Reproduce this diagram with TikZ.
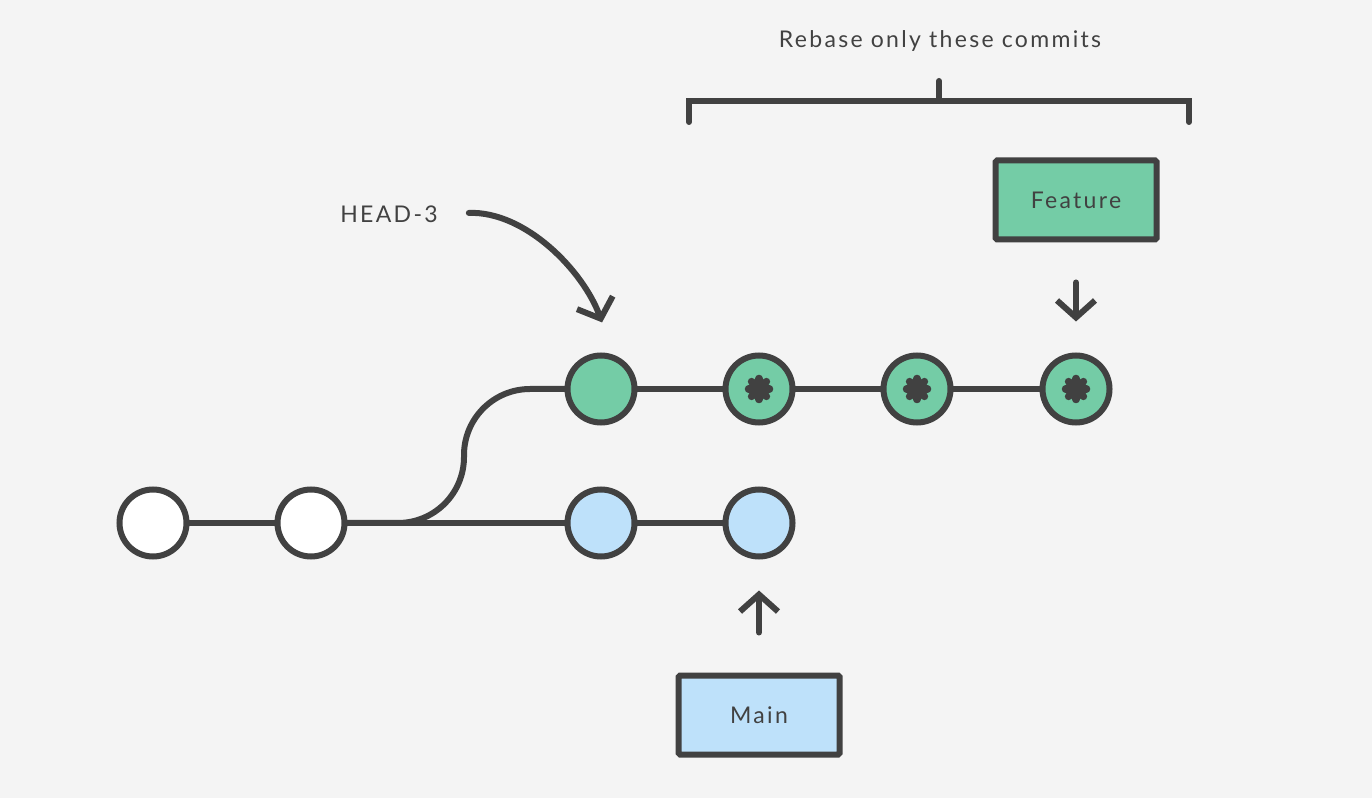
\documentclass[tikz,border=0pt]{standalone}
\usepackage{fontspec}
\setmainfont{Lato}[LetterSpace=10]
\usepackage{tikz}
\usetikzlibrary{arrows.meta}

\definecolor{ink}{HTML}{414141}
\definecolor{paper}{HTML}{F4F4F4}
\definecolor{featgreen}{HTML}{74CCA6}
\definecolor{mainblue}{HTML}{BEE1FA}

\tikzset{
  link/.style={draw=ink, line width=6pt, line cap=round},
  commit/.style={circle, draw=ink, line width=6pt, minimum size=67pt, inner sep=0pt},
  old/.style={commit, fill=white},
  onmain/.style={commit, fill=mainblue},
  onfeat/.style={commit, fill=featgreen},
  rebased/.style={onfeat, path picture={
      \foreach \a in {0,45,90,135}
        \draw[ink, line width=7.5pt, line cap=round]
          (path picture bounding box.center) ++(\a:10.5pt) -- ++(180+\a:21pt);}},
  branch/.style={rectangle, draw=ink, line width=6pt, minimum width=161pt,
    minimum height=79pt, rounded corners=1.5pt, text=ink, font=\fontsize{23}{27}\selectfont},
  caption/.style={inner sep=0pt, text=ink, font=\fontsize{23}{27}\selectfont},
  ref/.style={link, -{Straight Barb[length=17pt,width=38pt]}, shorten <=40pt, shorten >=31pt}
}

\begin{document}
\begin{tikzpicture}[x=1pt,y=1pt]
  \fill[paper] (0,0) rectangle (1372,798);

  \foreach \n/\x/\y/\s in {
    % old history
    w1/153/275/old,
    w2/311/275/old,
    % main
    b1/601/275/onmain,
    b2/759/275/onmain,
    % feature
    g1/601/409/onfeat,
    g2/759/409/rebased,
    g3/917/409/rebased,
    g4/1076/409/rebased%
  } { \node[\s] (\n) at (\x,\y) {}; }

  % connections
  \foreach \a/\b in {
    w1/w2,
    w2/b1,
    b1/b2,
    g1/g2,
    g2/g3,
    g3/g4%
  } { \draw[link] (\a) -- (\b); }

  \coordinate (fork) at (464,275);
  \draw[link, rounded corners=66pt] (w2) -- (fork) |- (g1);

  % branches
  \node[branch, fill=featgreen] (feature) at (1076,598) {Feature};
  \node[branch, fill=mainblue] (mainbr) at (759,83) {Main};
  \draw[ref] (feature) -- (g4);
  \draw[ref] (mainbr) -- (b2);

  \node[caption] (head) at (389,584) {HEAD-3};
  \draw[ref, shorten <=31pt, shorten >=32pt]
    (head.east) to[out=2, in=110] ([xshift=12pt]g1.north);

  % bracket
  \node[caption] (rebase) at (940,757) {Rebase only these commits};
  \draw[link] (689,676) |- (1189,697) -- (1189,676);
  \draw[link] (939,697) -- (939,717);
\end{tikzpicture}
\end{document}
